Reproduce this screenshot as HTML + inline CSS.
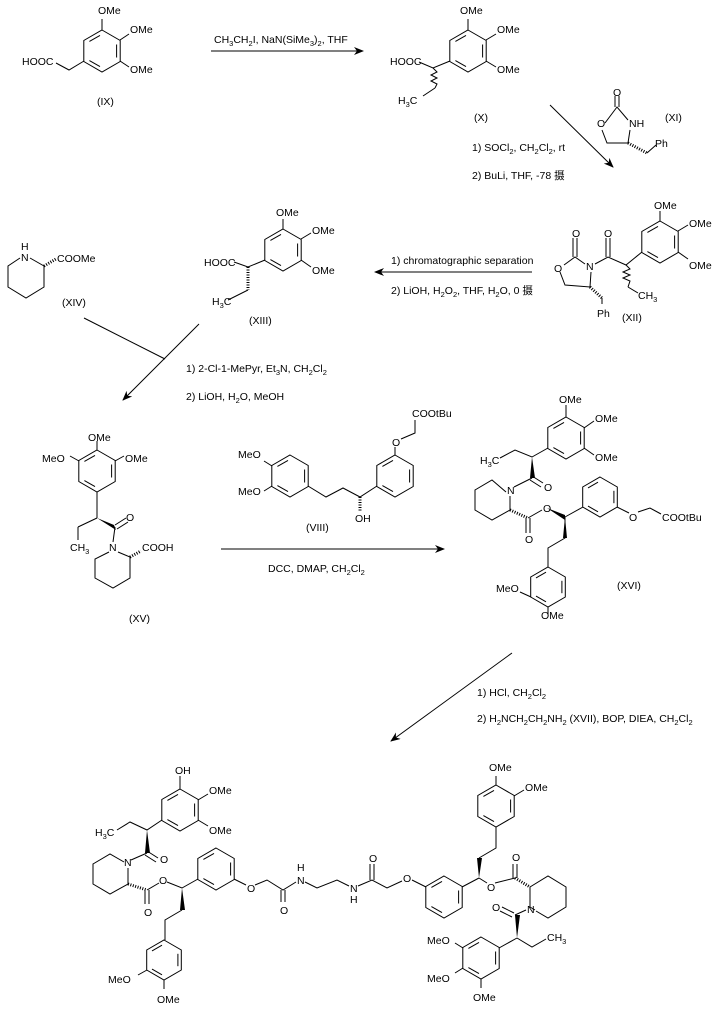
<!DOCTYPE html>
<html><head><meta charset="utf-8"><style>
html,body{margin:0;padding:0;background:#fff;}
svg{display:block;}
text{font-family:"Liberation Sans","Noto Sans CJK SC",sans-serif;font-size:10.5px;fill:#000;}
.s{font-size:7.5px;}
</style></head><body>
<svg width="718" height="1012" viewBox="0 0 718 1012" xmlns="http://www.w3.org/2000/svg">
<defs>
<g id="h" fill="none" stroke="#000" stroke-width="1">
<polygon points="0,-21 18.2,-10.5 18.2,10.5 0,21 -18.2,10.5 -18.2,-10.5"/>
<line x1="14.6" y1="-6.5" x2="14.6" y2="6.5"/>
<line x1="-2" y1="15.6" x2="-12.6" y2="9.6"/>
<line x1="-12.6" y1="-9.6" x2="-2" y2="-15.6"/>
</g>
<g id="h20" fill="none" stroke="#000" stroke-width="1">
<polygon points="0,-20 17.3,-10 17.3,10 0,20 -17.3,10 -17.3,-10"/>
<line x1="13.9" y1="-6.2" x2="13.9" y2="6.2"/>
<line x1="-2" y1="14.8" x2="-12" y2="9.1"/>
<line x1="-12" y1="-9.1" x2="-2" y2="-14.8"/>
</g>
<marker id="ar" markerWidth="10" markerHeight="8" refX="9" refY="4" orient="auto" markerUnits="userSpaceOnUse"><path d="M0,0 L10,4 L0,8 L3,4 z" fill="#000"/></marker>
</defs>
<g stroke="#000" stroke-width="1" fill="none">
<!-- IX -->
<use href="#h" x="102" y="51"/>
<line x1="102" y1="30" x2="102" y2="19"/>
<line x1="120" y1="40" x2="129" y2="34"/>
<line x1="120" y1="61" x2="129" y2="67"/>
<polyline points="84,61 69,70 56,63"/>
<!-- arrow1 -->
<line x1="211" y1="51" x2="363" y2="51" marker-end="url(#ar)"/>
<!-- X -->
<use href="#h" x="468" y="51"/>
<line x1="468" y1="30" x2="468" y2="19"/>
<line x1="486" y1="40" x2="496" y2="34"/>
<line x1="486" y1="61" x2="496" y2="67"/>
<polyline points="450,61 433,68 419,62"/>
<polyline points="433,68 437,72 431,75 437,78 431,81 437,84 435,88"/>
<line x1="435" y1="88" x2="423" y2="96"/>
<!-- arrow2 -->
<line x1="550" y1="105" x2="613" y2="167" marker-end="url(#ar)"/>
<!-- XI -->
<polyline points="605,123 617,107 628,120"/>
<polyline points="630,130 628,143 607,143 602,130"/>
<line x1="615" y1="107" x2="615" y2="96"/><line x1="619" y1="107" x2="619" y2="96"/>
<line x1="628" y1="143" x2="647" y2="153" stroke-width="3" stroke-dasharray="1,1.5"/>
<line x1="647" y1="153" x2="656" y2="145"/>
<!-- XII -->
<use href="#h" x="660" y="242"/>
<line x1="660" y1="221" x2="660" y2="211"/>
<line x1="678" y1="231" x2="688" y2="225"/>
<line x1="678" y1="252" x2="688" y2="259"/>
<polyline points="642,252 626,265 608,257 595,264"/>
<line x1="606" y1="257" x2="606" y2="238"/><line x1="610" y1="257" x2="610" y2="238"/>
<polyline points="585,264 575,257 564,265"/>
<line x1="573" y1="257" x2="573" y2="238"/><line x1="577" y1="257" x2="577" y2="238"/>
<polyline points="560,272 565,285 590,287 591,272"/>
<line x1="590" y1="287" x2="602" y2="298" stroke-width="3" stroke-dasharray="1,1.5"/>
<line x1="602" y1="298" x2="602" y2="304"/>
<polyline points="626,265 630,269 623,272 630,275 623,278 630,281 628,287"/>
<line x1="628" y1="287" x2="638" y2="293"/>
<!-- arrow3 -->
<line x1="532" y1="272" x2="375" y2="272" marker-end="url(#ar)"/>
<!-- XIII -->
<use href="#h" x="283" y="250"/>
<line x1="283" y1="229" x2="283" y2="219"/>
<line x1="301" y1="239" x2="311" y2="233"/>
<line x1="301" y1="260" x2="311" y2="267"/>
<polyline points="265,260 248,267 234,262"/>
<line x1="248" y1="267" x2="248" y2="290" stroke-width="3" stroke-dasharray="1,1.5"/>
<line x1="248" y1="290" x2="228" y2="300"/>
<!-- XIV -->
<polyline points="30,258 44,266 44,287 26,298 8,287 8,266 20,258"/>
<line x1="44" y1="266" x2="56" y2="259" stroke-width="3" stroke-dasharray="1,1.5"/>
<!-- converging arrow -->
<line x1="84" y1="318" x2="165" y2="359"/>
<line x1="199" y1="324" x2="123" y2="400" marker-end="url(#ar)"/>
<!-- XV -->
<use href="#h" x="97" y="471"/>
<line x1="97" y1="450" x2="97" y2="441"/>
<line x1="79" y1="461" x2="70" y2="456"/>
<line x1="115" y1="461" x2="124" y2="456"/>
<line x1="97" y1="492" x2="97" y2="518"/>
<line x1="97" y1="518" x2="78" y2="527"/><line x1="78" y1="527" x2="78" y2="540"/>
<line x1="115" y1="527" x2="113" y2="542"/>
<line x1="115" y1="525" x2="126" y2="518"/><line x1="117" y1="529" x2="128" y2="522"/>
<polyline points="109,552 95,559 95,578 113,588 130,578 130,557 118,552"/>
<line x1="130" y1="557" x2="141" y2="551" stroke-width="3" stroke-dasharray="1,1.5"/>
<!-- arrow4 -->
<line x1="221" y1="549" x2="444" y2="549" marker-end="url(#ar)"/>
<!-- VIII -->
<use href="#h" x="290" y="476"/>
<use href="#h" x="395" y="476"/>
<line x1="272" y1="466" x2="264" y2="461"/>
<line x1="272" y1="486" x2="264" y2="491"/>
<polyline points="308,486 326,497 343,488 360,497 377,486"/>
<line x1="360" y1="497" x2="360" y2="511" stroke-width="3" stroke-dasharray="1,1.5"/>
<line x1="395" y1="455" x2="395" y2="447"/>
<polyline points="401,439 415,433 415,420"/>
<!-- XVI -->
<use href="#h" x="566" y="438"/>
<line x1="566" y1="417" x2="566" y2="405"/>
<line x1="584" y1="428" x2="594" y2="421"/>
<line x1="584" y1="448" x2="594" y2="455"/>
<polyline points="548,448 532,457 515,450 500,458"/>
<line x1="532" y1="478" x2="514" y2="487"/>
<line x1="532" y1="476" x2="543" y2="483"/><line x1="530" y1="480" x2="541" y2="487"/>
<polyline points="506,492 492,480 475,490 475,510 492,520 510,510 510,496"/>
<line x1="510" y1="510" x2="528" y2="518" stroke-width="3" stroke-dasharray="1,1.5"/>
<line x1="526" y1="518" x2="526" y2="533"/><line x1="530" y1="518" x2="530" y2="533"/>
<line x1="528" y1="518" x2="542" y2="510"/>
<use href="#h20" x="600" y="497"/>
<line x1="565" y1="517" x2="583" y2="507"/>
<polyline points="565,517 565,538 548,548 548,567"/>
<use href="#h20" x="548" y="587"/>
<line x1="617" y1="507" x2="629" y2="513"/>
<polyline points="638,512 650,508 661,514"/>
<line x1="531" y1="597" x2="520" y2="592"/>
<line x1="548" y1="607" x2="548" y2="614"/>
<!-- arrow5 -->
<line x1="512" y1="653" x2="391" y2="741" marker-end="url(#ar)"/>
<!-- final left -->
<use href="#h" x="180" y="810"/>
<line x1="180" y1="789" x2="180" y2="776"/>
<line x1="198" y1="800" x2="208" y2="794"/>
<line x1="198" y1="820" x2="208" y2="826"/>
<polyline points="162,820 147,830 130,822 117,830"/>
<line x1="147" y1="853" x2="131" y2="860"/>
<line x1="147" y1="851" x2="158" y2="858"/><line x1="145" y1="855" x2="156" y2="862"/>
<polyline points="124,862 110,854 93,864 93,884 110,894 128,884 128,868"/>
<line x1="128" y1="884" x2="147" y2="890" stroke-width="3" stroke-dasharray="1,1.5"/>
<line x1="145" y1="890" x2="145" y2="904"/><line x1="149" y1="890" x2="149" y2="904"/>
<polyline points="147,890 159,883"/>
<polyline points="167,882 182,888 198,879"/>
<use href="#h" x="216" y="869"/>
<polyline points="182,910 165,920 165,940"/>
<use href="#h20" x="164" y="960"/>
<line x1="147" y1="970" x2="138" y2="975"/>
<line x1="164" y1="980" x2="164" y2="989"/>
<line x1="234" y1="879" x2="246" y2="885"/>
<polyline points="255,885 267,880 283,890 296,882"/>
<line x1="281" y1="890" x2="281" y2="902"/><line x1="285" y1="890" x2="285" y2="902"/>
<polyline points="305,882 317,888 337,880 349,886"/>
<polyline points="358,886 372,880 387,888 402,881"/>
<line x1="370" y1="880" x2="370" y2="864"/><line x1="374" y1="880" x2="374" y2="864"/>
<!-- final right -->
<use href="#h" x="444" y="897"/>
<line x1="412" y1="880" x2="426" y2="887"/>
<polyline points="462,887 479,878"/>
<polyline points="479,858 496,848 496,827"/>
<use href="#h" x="496" y="806"/>
<line x1="496" y1="785" x2="496" y2="776"/>
<line x1="514" y1="796" x2="524" y2="790"/>
<line x1="479" y1="878" x2="487" y2="883"/>
<polyline points="495,883 515,878"/>
<line x1="515" y1="878" x2="530" y2="887" stroke-width="3" stroke-dasharray="1,1.5"/>
<line x1="513" y1="878" x2="513" y2="864"/><line x1="517" y1="878" x2="517" y2="864"/>
<polyline points="535,910 530,907 530,887 548,876 566,887 566,907 548,918 536,911"/>
<line x1="526" y1="910" x2="515" y2="915"/>
<line x1="514" y1="913" x2="502" y2="907"/><line x1="512" y1="917" x2="500" y2="911"/>
<polyline points="517,938 532,947 546,939"/>
<use href="#h" x="481" y="958"/>
<line x1="517" y1="938" x2="499" y2="948"/>
<line x1="463" y1="948" x2="455" y2="943"/>
<line x1="463" y1="968" x2="455" y2="973"/>
<line x1="481" y1="979" x2="481" y2="988"/>
</g>
<g fill="#000" stroke="none">
<polygon points="97,518 114,525 116,530"/>
<polygon points="532,457 530,478 535,478"/>
<polygon points="547,508 565,515 565,520"/>
<polygon points="565,517 563,538 567,538"/>
<polygon points="147,830 145,853 150,853"/>
<polygon points="182,888 180,910 185,910"/>
<polygon points="479,878 477,858 482,858"/>
<polygon points="517,938 515,915 520,915"/>
</g>
<g>
<text x="98" y="14">OMe</text><text x="130" y="33">OMe</text><text x="130" y="73">OMe</text>
<text x="22" y="65">HOOC</text><text x="97" y="105">(IX)</text>
<text x="214" y="43">CH<tspan class="s" dy="3">3</tspan><tspan dy="-3">CH</tspan><tspan class="s" dy="3">2</tspan><tspan dy="-3">I, NaN(SiMe</tspan><tspan class="s" dy="3">3</tspan><tspan dy="-3">)</tspan><tspan class="s" dy="3">2</tspan><tspan dy="-3">, THF</tspan></text>
<text x="460" y="14">OMe</text><text x="497" y="33">OMe</text><text x="497" y="73">OMe</text>
<text x="390" y="65">HOOC</text>
<text x="398" y="104">H<tspan class="s" dy="3">3</tspan><tspan dy="-3">C</tspan></text>
<text x="474" y="121">(X)</text>
<text x="472" y="151">1)  SOCl<tspan class="s" dy="3">2</tspan><tspan dy="-3">, CH</tspan><tspan class="s" dy="3">2</tspan><tspan dy="-3">Cl</tspan><tspan class="s" dy="3">2</tspan><tspan dy="-3">, rt</tspan></text>
<text x="472" y="179">2)  BuLi, THF, -78 摄</text>
<text x="613" y="96">O</text><text x="597" y="127">O</text><text x="629" y="127">NH</text>
<text x="655" y="147">Ph</text><text x="665" y="121">(XI)</text>
<text x="654" y="209">OMe</text><text x="689" y="227">OMe</text><text x="689" y="269">OMe</text>
<text x="604" y="237">O</text><text x="572" y="237">O</text>
<text x="586" y="270">N</text><text x="554" y="272">O</text>
<text x="597" y="317">Ph</text>
<text x="638" y="299">CH<tspan class="s" dy="3">3</tspan></text>
<text x="622" y="321">(XII)</text>
<text x="391" y="264">1) chromatographic separation</text>
<text x="391" y="294">2) LiOH, H<tspan class="s" dy="3">2</tspan><tspan dy="-3">O</tspan><tspan class="s" dy="3">2</tspan><tspan dy="-3">, THF, H</tspan><tspan class="s" dy="3">2</tspan><tspan dy="-3">O, 0 摄</tspan></text>
<text x="276" y="216">OMe</text><text x="312" y="234">OMe</text><text x="312" y="274">OMe</text>
<text x="204" y="266">HOOC</text>
<text x="212" y="305">H<tspan class="s" dy="3">3</tspan><tspan dy="-3">C</tspan></text>
<text x="249" y="324">(XIII)</text>
<text x="21" y="250">H</text><text x="21" y="261">N</text>
<text x="57" y="262">COOMe</text><text x="62" y="306">(XIV)</text>
<text x="186" y="372">1)  2-Cl-1-MePyr, Et<tspan class="s" dy="3">3</tspan><tspan dy="-3">N, CH</tspan><tspan class="s" dy="3">2</tspan><tspan dy="-3">Cl</tspan><tspan class="s" dy="3">2</tspan></text>
<text x="186" y="400">2)  LiOH, H<tspan class="s" dy="3">2</tspan><tspan dy="-3">O, MeOH</tspan></text>
<text x="88" y="441">OMe</text><text x="42" y="462">MeO</text><text x="125" y="462">OMe</text>
<text x="126" y="521">O</text>
<text x="70" y="551">CH<tspan class="s" dy="3">3</tspan></text>
<text x="109" y="551">N</text><text x="142" y="551">COOH</text>
<text x="129" y="622">(XV)</text>
<text x="412" y="417">COOtBu</text><text x="392" y="446">O</text>
<text x="238" y="458">MeO</text><text x="238" y="495">MeO</text>
<text x="355" y="522">OH</text><text x="306" y="531">(VIII)</text>
<text x="268" y="572">DCC, DMAP, CH<tspan class="s" dy="3">2</tspan><tspan dy="-3">Cl</tspan><tspan class="s" dy="3">2</tspan></text>
<text x="559" y="403">OMe</text><text x="595" y="422">OMe</text><text x="595" y="461">OMe</text>
<text x="480" y="464">H<tspan class="s" dy="3">3</tspan><tspan dy="-3">C</tspan></text>
<text x="544" y="491">O</text><text x="507" y="494">N</text>
<text x="543" y="512">O</text><text x="525" y="543">O</text>
<text x="629" y="521">O</text><text x="662" y="521">COOtBu</text>
<text x="496" y="592">MeO</text><text x="541" y="619">OMe</text>
<text x="617" y="589">(XVI)</text>
<text x="477" y="696">1) HCl, CH<tspan class="s" dy="3">2</tspan><tspan dy="-3">Cl</tspan><tspan class="s" dy="3">2</tspan></text>
<text x="477" y="722">2) H<tspan class="s" dy="3">2</tspan><tspan dy="-3">NCH</tspan><tspan class="s" dy="3">2</tspan><tspan dy="-3">CH</tspan><tspan class="s" dy="3">2</tspan><tspan dy="-3">NH</tspan><tspan class="s" dy="3">2</tspan><tspan dy="-3">  (XVII),  BOP, DIEA, CH</tspan><tspan class="s" dy="3">2</tspan><tspan dy="-3">Cl</tspan><tspan class="s" dy="3">2</tspan></text>
<text x="175" y="774">OH</text><text x="209" y="794">OMe</text><text x="209" y="834">OMe</text>
<text x="95" y="836">H<tspan class="s" dy="3">3</tspan><tspan dy="-3">C</tspan></text>
<text x="160" y="863">O</text><text x="124" y="866">N</text>
<text x="159" y="884">O</text><text x="144" y="916">O</text>
<text x="108" y="983">MeO</text><text x="157" y="1003">OMe</text>
<text x="247" y="892">O</text><text x="280" y="914">O</text>
<text x="297" y="871">H</text><text x="297" y="884">N</text>
<text x="350" y="892">N</text><text x="350" y="903">H</text>
<text x="369" y="862">O</text><text x="403" y="882">O</text>
<text x="489" y="771">OMe</text><text x="525" y="791">OMe</text>
<text x="487" y="891">O</text><text x="512" y="861">O</text>
<text x="527" y="913">N</text><text x="492" y="911">O</text>
<text x="547" y="941">CH<tspan class="s" dy="3">3</tspan></text>
<text x="427" y="944">MeO</text><text x="427" y="982">MeO</text>
<text x="473" y="1001">OMe</text>
</g>
</svg>
</body></html>
